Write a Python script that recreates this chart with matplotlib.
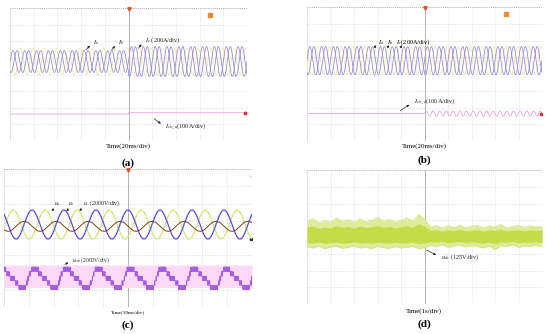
import numpy as np
import matplotlib
matplotlib.use('Agg')
import matplotlib.pyplot as plt

plt.rcParams['font.family'] = ['Liberation Serif', 'DejaVu Serif']
plt.rcParams['mathtext.fontset'] = 'stix'

# ---- panel (a): phase currents, step in amplitude at the centre line ----
a_cycles_per_div = 2.0
a_phase_deg = [0, -120, 120]                  # I_a, I_b, I_c
a_amp_before = [0.66, 0.66, 0.81]             # div
a_amp_after = [0.90, 0.90, 0.81]
a_offset = 0.78
a_cir_level = [-2.38, -2.30]                  # I_cir_a before / after step
a_colors = ['#a684c6', '#8888dc', '#ebe7aa']

# ---- panel (b): phase currents constant, circulating current starts oscillating ----
b_cycles_per_div = 2.0
b_phase_deg = [0, -120, 120]
b_amp = [0.84, 0.84, 0.84]
b_offset = 0.80
b_cir_level = -2.36
b_cir_amp_after = 0.16
b_cir_cycles_per_div = 3.5

# ---- panel (c): arm voltages and submodule voltage ----
c_period_div = 1.29
c_peak_pos = [2.10, 5.00, 4.24]               # u_a (brown), u_b (blue), u_c (yellow)
c_amp = [0.29, 0.84, 0.84]
c_offset = [0.68, 0.78, 0.78]
c_colors = ['#8a3b1c', '#5050e0', '#d2e670']
sm_levels = 5
sm_center = -2.34
sm_amp = 0.66
sm_band = [-1.57, -2.86]

# ---- panel (d): dc voltage ripple envelope (div), x = 0..10 step 0.25 ----
d_x = np.arange(0, 10.01, 0.25)
d_upper = [0.95, 1.10, 0.85, 1.00, 0.90, 1.15, 0.95, 1.05, 0.88, 1.10, 0.92, 1.00, 1.18, 0.95,
           1.06, 0.90, 1.02, 1.15, 0.97, 1.35, 1.08,
           0.62, 0.70, 0.55, 0.68, 0.58, 0.72, 0.56, 0.66, 0.70, 0.54, 0.68, 0.62, 0.75, 0.56,
           0.65, 0.70, 0.58, 0.68, 0.62, 0.65]
d_lower = [-0.58, -0.66, -0.54, -0.70, -0.60, -0.56, -0.68, -0.62, -0.54, -0.66, -0.60, -0.70,
           -0.56, -0.64, -0.68, -0.58, -0.66, -0.62, -0.56, -0.70, -0.64,
           -0.50, -0.58, -0.46, -0.62, -0.54, -0.48, -0.60, -0.52, -0.56, -0.66, -0.54, -0.76,
           -0.51, -0.58, -0.46, -0.62, -0.54, -0.56, -0.51, -0.58]

W, H = 550, 334
fig = plt.figure(figsize=(W / 100, H / 100), dpi=100)


def scope(px_left, px_top, px_right, px_bottom):
    ax = fig.add_axes([px_left / W, 1 - px_bottom / H,
                       (px_right - px_left) / W, (px_bottom - px_top) / H])
    ax.set_xlim(0, 10)
    ax.set_ylim(-4, 4)
    for x in range(1, 10):
        ax.axvline(x, color='#dadada', lw=0.5, ls=(0, (1.5, 1.5)), zorder=0)
    for y in range(-3, 4):
        ax.axhline(y, color='#dadada', lw=0.5, ls=(0, (1.5, 1.5)), zorder=0)
    ax.axvline(5, color='#a8a8a8', lw=0.6, zorder=0)
    for y in (-4, 4):
        ax.axhline(y, color='#b0b0b0', lw=0.6, ls=(0, (1.5, 1)), zorder=0)
    ax.axvline(0, color='#c8c8c8', lw=0.6, ls=(0, (1.5, 1)), zorder=0)
    ax.axvline(10, color='#e4e4e4', lw=0.5, zorder=0)
    for s in ax.spines.values():
        s.set_visible(False)
    ax.set_xticks([])
    ax.set_yticks([])
    return ax


def note(ax, text, xy_from, xy_to, txt_xy, size=4.5):
    ax.annotate('', xy=xy_to, xytext=xy_from,
                arrowprops=dict(arrowstyle='-|>', color='#222222', lw=0.5,
                                mutation_scale=3))
    ax.text(txt_xy[0], txt_xy[1], text, fontsize=size, ha='left', va='center',
            color='#222222')


def markers(ax, square_color='#f08a30'):
    ax.plot([5], [3.93], marker='v', color='#e8502a', ms=2.5, clip_on=False)
    ax.plot([8.45], [3.6], marker='s', color=square_color, ms=2.5)


t = np.linspace(0, 10, 6000)

# (a)
ax = scope(10, 8, 247, 141)
markers(ax)
for k in range(3):
    amp = np.where(t < 5, a_amp_before[k], a_amp_after[k])
    y = a_offset + amp * np.sin(2 * np.pi * a_cycles_per_div * t + np.deg2rad(a_phase_deg[k]))
    ax.plot(t, y, color=a_colors[k], lw=0.55, zorder=3 - k)
cir = np.where(t < 5, a_cir_level[0], a_cir_level[1])
ax.plot(t, cir, color='#e4a8da', lw=0.6)
ax.plot([9.9], [a_cir_level[1]], 'o', color='#e03040', ms=1.8)
note(ax, r'$I_a$', (3.12, 1.35), (3.45, 1.85), (3.5, 1.9))
note(ax, r'$I_b$', (4.22, 1.35), (4.50, 1.85), (4.56, 1.9))
note(ax, r'$I_c$ (200A/div)', (5.35, 1.45), (5.62, 1.95), (5.7, 2.08))
note(ax, r'$I_{cir\_a}$(100A/div)', (5.99, -2.56), (6.46, -3.06), (6.54, -3.16))
fig.text(128 / W, 1 - 146 / H, 'Time(20ms/div)', fontsize=5, ha='center', va='center')
fig.text(128 / W, 1 - 163 / H, '(a)', fontsize=8, fontweight='bold', ha='center', va='center')

# (b)
ax = scope(307, 7, 542, 141)
markers(ax)
for k in range(3):
    y = b_offset + b_amp[k] * np.sin(2 * np.pi * b_cycles_per_div * t + np.deg2rad(b_phase_deg[k]))
    ax.plot(t, y, color=a_colors[k], lw=0.55, zorder=3 - k)
cir_b = b_cir_level + np.where(t < 5, 0.0,
                               b_cir_amp_after * np.sin(2 * np.pi * b_cir_cycles_per_div * (t - 5)))
ax.plot(t, cir_b, color='#e4a8da', lw=0.6)
ax.plot([9.95], [b_cir_level], 'o', color='#e03040', ms=1.8)
for x0 in (2.9, 3.45, 4.0):
    ax.annotate('', xy=(x0 + 0.12, 1.85), xytext=(x0 - 0.1, 1.45),
                arrowprops=dict(arrowstyle='-|>', color='#222222', lw=0.5, mutation_scale=3))
ax.text(3.0, 1.92, r'$I_a$   $I_b$   $I_c$(200A/div)', fontsize=4.5, ha='left', va='center')
note(ax, r'$I_{cir\_a}$(100A/div)', (3.87, -2.27), (4.45, -1.75), (4.55, -1.67))
fig.text(424 / W, 1 - 146 / H, 'Time(20ms/div)', fontsize=5, ha='center', va='center')
fig.text(424 / W, 1 - 160 / H, '(b)', fontsize=8, fontweight='bold', ha='center', va='center')

# (c)
ax = scope(4, 169, 252, 307)
ax.plot([5], [3.93], marker='v', color='#e8502a', ms=2.5, clip_on=False)
ax.text(9.95, 3.55, 'U', fontsize=3.5, color='#c8b020', ha='center', va='center')
ax.fill_between(t, sm_band[0], sm_band[1], color='#fbd9f7', lw=0, zorder=1)
for k in [2, 1, 0]:
    y = c_offset[k] + c_amp[k] * np.cos(2 * np.pi * (t - c_peak_pos[k]) / c_period_div)
    ax.plot(t, y, color=c_colors[k], lw=0.9 if k else 0.7, zorder=3)
ax.plot([9.95], [c_offset[1] - c_amp[1]], 'o', color='#222222', ms=1.5)
# stepped multilevel voltage with pwm between adjacent levels
tc = np.linspace(0, 10, 30000)
ph = 2 * np.pi * (tc - 4.85) / c_period_div
ref = (np.sin(ph) + 0.3 * np.sin(2 * ph)) / 1.15
lv = (ref + 1) / 2 * sm_levels
base = np.floor(lv)
carrier = np.abs(((tc * 35) % 1.0) * 2 - 1)
out = base + ((lv - base) > carrier)
usm = sm_center + sm_amp * (out / sm_levels * 2 - 1)
ax.plot(tc, usm, color='#a45ee0', lw=0.4, zorder=4)
note(ax, r'$u_a$', (1.95, 1.45), (2.0, 1.9), (2.0, 2.0), size=4.2)
note(ax, r'$u_b$', (2.55, 1.45), (2.6, 1.9), (2.6, 2.0), size=4.2)
note(ax, r'$u_c$ (2000V/div)', (3.05, 1.45), (3.15, 1.9), (3.2, 2.0), size=4.2)
note(ax, r'$u_{sm}$ (2000V/div)', (2.35, -1.6), (2.7, -1.35), (2.75, -1.3), size=4.0)
fig.text(128 / W, 1 - 312 / H, 'Time(10ms/div)', fontsize=3.8, ha='center', va='center')
fig.text(128 / W, 1 - 325 / H, '(c)', fontsize=8, fontweight='bold', ha='center', va='center')

# (d)
ax = scope(307, 170, 542, 304)
ax.fill_between(d_x, d_upper, d_lower, color='#dcec9a', lw=0, zorder=2)
ax.fill_between(d_x, np.array(d_upper) * 0.55 + 0.05, np.array(d_lower) * 0.55,
                color='#c4dc48', lw=0, zorder=3)
ax.plot(d_x, d_upper, color='#cfe46c', lw=0.4, zorder=3)
ax.plot(d_x, d_lower, color='#cfe46c', lw=0.4, zorder=3)
note(ax, r'$u_{dc}$ (125V/div)', (5.0, -0.72), (5.6, -1.15), (5.7, -1.2), size=4.5)
fig.text(424 / W, 1 - 311 / H, 'Time(1s/div)', fontsize=5, ha='center', va='center')
fig.text(424 / W, 1 - 324 / H, '(d)', fontsize=8, fontweight='bold', ha='center', va='center')

fig.savefig('out.png', dpi=100)
